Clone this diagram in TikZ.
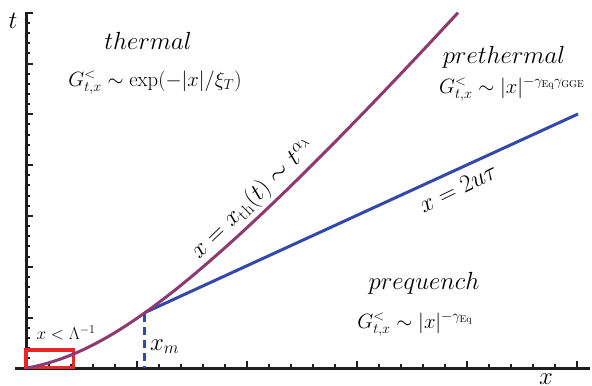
\documentclass[tikz,border=0pt]{standalone}
\usepackage{amsmath}
\definecolor{curvepurple}{RGB}{142,57,112}
\definecolor{lineblue}{RGB}{52,72,168}
\definecolor{boxred}{RGB}{232,40,40}
\definecolor{axisgray}{RGB}{30,30,30}
\begin{document}
\begin{tikzpicture}[x=1bp,y=-1bp,
  axisline/.style={line width=3bp, draw=axisgray},
  tickline/.style={line width=2bp, draw=axisgray},
  purpleline/.style={line width=3bp, draw=curvepurple},
  blueline/.style={line width=3bp, draw=lineblue},
  bluedash/.style={line width=3bp, draw=lineblue, dash pattern=on 8bp off 5bp},
  redbox/.style={line width=3.3bp, draw=boxred},
  big/.style={font=\fontsize{25}{30}\selectfont, inner sep=0pt},
  mid/.style={font=\fontsize{20.5}{24}\selectfont, inner sep=0pt},
  small/.style={font=\fontsize{18}{22}\selectfont, inner sep=0pt}]
\useasboundingbox (0,0) rectangle (592,385);
% axes
\coordinate (O) at (26.7,368.3);
\draw[axisline] (15,368.3) -- (590,368.3);
\draw[axisline] (26,368.3) -- (26,11.5);
\foreach \k in {1,...,35} \draw[tickline] (26,{368.3-10.16*\k}) -- ++(3.8,0);
\foreach \k in {1,...,7} \draw[tickline] (26,{368.3-50.8*\k}) -- ++(6.5,0);
\foreach \k in {1,...,25} \draw[tickline] ({26.7+22*\k},368.3) -- ++(0,-4);
\foreach \k in {1,...,5} \draw[tickline] ({26.7+110*\k},368.3) -- ++(0,-7);
% red box
\draw[redbox] (26,350) rectangle (73.3,367.3);
% curves
\coordinate (C0) at (27,368);
\coordinate (M) at (145,312.5);
\coordinate (P3) at (458,12.7);
\coordinate (B) at (578,114);
\coordinate (Mb) at (144.5,368);
\draw[bluedash] (144.5,314) -- (Mb);
\draw[blueline] (M) -- (B);
\draw[purpleline] (C0) .. controls (107,353) and (198,293.5) .. (P3);
% labels
\node[big] (tlab) at (13,21) {$t$};
\node[big] (xlab) at (546,379) {$x$};
\node[big, anchor=base] (th) at (148,49.3) {$thermal$};
\node[mid, anchor=base] (gth) at (155,86) {$G^<_{t,x}\sim\exp(-|x|/\xi_T)$};
\node[big, anchor=base] (pth) at (504,63.3) {$prethermal$};
\node[mid, anchor=base] (gpth) at (512,93.3) {$G^<_{t,x}\sim|x|^{-\gamma_{\mathrm{Eq}}\gamma_{\mathrm{GGE}}}$};
\node[big, anchor=base] (pq) at (424,289.3) {$prequench$};
\node[mid, anchor=base] (gpq) at (415,328.3) {$G^<_{t,x}\sim|x|^{-\gamma_{\mathrm{Eq}}}$};
\node[small, anchor=base] (lam) at (66,339.3) {$x<\Lambda^{-1}$};
\node[big, anchor=base west] (xm) at (150,350) {$x_m$};
\node[big, rotate=44] (xth) at (253,199) {$x=x_{\mathrm{th}}(t)\sim t^{\alpha_\lambda}$};
\node[big, rotate=26] (xu) at (458,188) {$x=2u\tau$};
\end{tikzpicture}
\end{document}
